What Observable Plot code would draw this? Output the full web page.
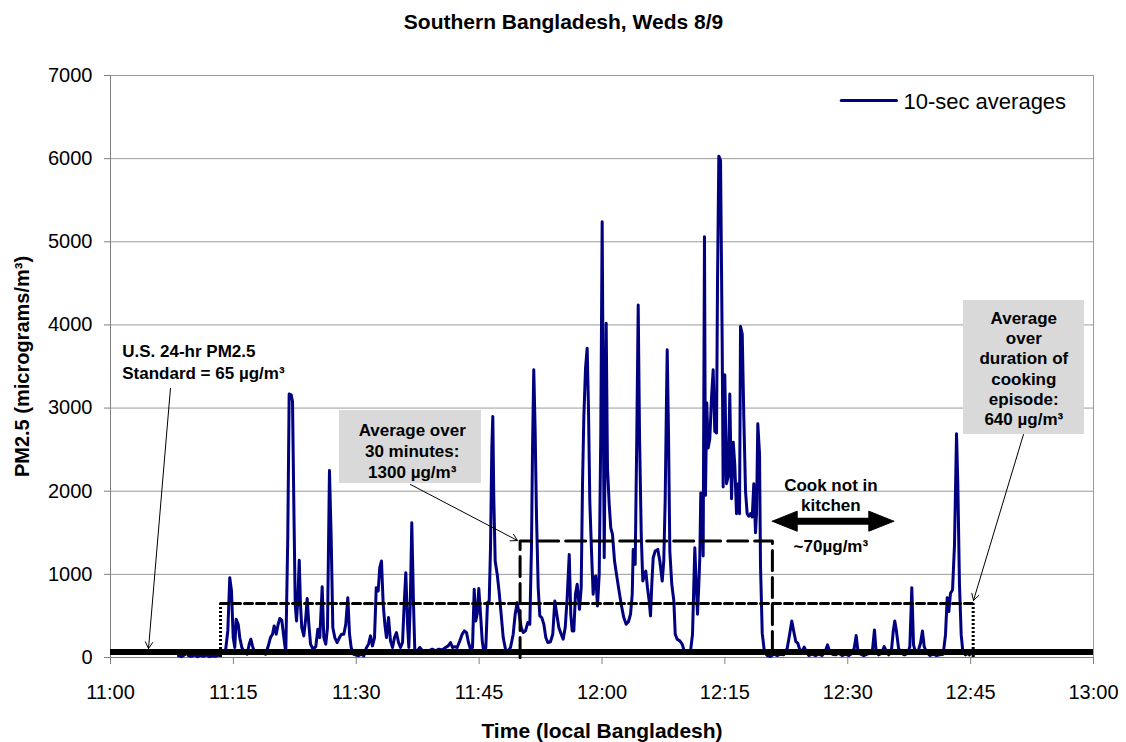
<!DOCTYPE html>
<html><head><meta charset="utf-8">
<script src="https://cdn.jsdelivr.net/npm/d3@7"></script>
<script src="https://cdn.jsdelivr.net/npm/@observablehq/plot@0.6"></script>
<style>
body{margin:0;background:#fff;}
#chart svg{display:block;}
</style></head><body><div id="chart"></div>
<script>
// ---- data: minutes after 11:00 and PM2.5 10-sec averages (µg/m³) ----
const minutesAfter11 = [
8.30,8.67,9.03,9.28,9.52,9.89,10.25,10.62,10.99,11.35,11.72,12.09,12.45,12.82,13.18,13.43,
14.04,14.32,14.56,14.77,14.98,15.17,15.34,15.59,15.78,16.03,16.36,16.69,16.93,17.13,17.33,17.58,17.91,18.23,18.56,18.92,19.20,19.53,19.78,19.98,20.23,20.47,20.67,20.91,21.16,21.40,21.64,21.81,22.06,22.22,22.38,22.55,22.71,22.86,23.04,23.19,23.35,23.60,23.84,24.01,24.21,24.42,24.74,25.06,25.31,25.55,25.84,26.04,26.28,26.49,26.73,26.94,27.14,27.38,27.67,27.95,28.20,28.48,28.72,28.97,29.18,29.38,29.63,29.95,30.27,30.60,30.92,31.25,31.50,31.74,31.98,32.23,32.44,32.68,32.87,33.08,33.29,33.49,33.69,33.94,34.18,34.43,34.67,34.91,35.16,35.40,35.65,35.85,36.05,36.26,36.42,36.59,36.78,36.99,37.15,
37.44,37.76,38.09,38.45,38.86,39.27,39.67,40.08,40.49,40.90,41.22,41.51,41.75,42.03,42.32,42.64,42.93,43.21,43.46,43.70,43.95,44.19,44.40,44.59,44.76,44.96,45.17,45.38,45.57,45.82,46.02,46.23,46.39,46.55,46.67,46.79,46.96,47.21,47.45,47.69,47.94,48.22,48.50,48.83,49.16,49.40,49.65,49.89,50.14,50.38,50.66,50.94,51.19,51.39,51.52,51.67,51.84,52.00,52.21,52.41,52.65,52.90,53.14,53.38,53.71,53.99,54.24,54.48,54.73,55.02,55.26,55.51,55.75,56.00,56.19,56.36,56.56,56.76,56.97,57.25,57.46,57.62,57.78,57.99,58.19,58.35,58.51,58.72,58.92,59.08,59.24,59.45,59.66,59.85,60.02,60.18,60.27,60.51,60.67,60.88,61.07,61.28,61.53,61.77,62.05,62.34,62.66,62.95,63.23,63.48,63.69,63.81,64.05,64.25,64.42,64.58,64.79,64.98,65.19,65.35,65.55,65.76,65.92,66.08,66.25,66.49,66.81,67.06,67.35,67.54,67.71,67.87,67.96,68.12,68.28,68.52,68.77,68.94,69.18,69.50,69.79,70.07,70.40,70.80,71.05,71.21,71.33,71.50,71.66,71.82,71.94,72.06,72.23,72.35,72.51,72.63,72.79,72.96,73.16,73.37,73.57,73.77,73.98,74.10,74.26,74.47,74.67,74.79,74.99,75.20,75.41,75.60,75.81,76.02,76.21,76.42,76.63,76.79,76.91,77.12,77.31,77.52,77.72,77.92,78.13,78.34,78.53,78.74,78.86,79.02,79.23,79.35,79.56,79.84,80.17,80.57,80.97,
81.39,81.79,82.19,82.61,82.89,83.17,83.41,83.66,83.90,84.15,84.44,84.68,84.93,85.24,85.66,86.06,86.47,86.88,87.28,87.53,87.77,88.10,88.50,88.91,89.32,89.72,90.13,90.54,90.79,91.03,91.23,91.56,91.96,92.37,92.78,93.02,93.26,93.47,93.79,94.12,94.45,94.69,95.01,95.34,95.55,95.74,95.95,96.20,96.52,96.93,97.33,97.58,97.82,98.03,98.27,98.60,98.88,99.12,99.33,99.61,100.02,100.43,100.83,101.24,101.65,101.93,102.14,102.34,102.54,102.79,103.03,103.28,103.44,103.64,103.85,104.04,104.37,104.66,104.86
];
const pm25 = [
20,10,30,60,20,15,30,10,25,15,30,10,20,15,25,40,
80,320,960,800,240,120,460,400,240,120,60,40,160,220,140,60,80,50,60,40,120,240,280,380,280,400,470,450,240,60,1440,3170,3160,3080,1840,640,440,680,1170,640,360,260,480,710,400,160,100,130,340,240,850,240,160,360,2250,1440,360,240,180,240,280,280,400,720,280,120,40,30,20,40,20,120,160,260,140,240,840,800,1080,1160,640,400,240,480,200,120,240,300,180,120,180,640,1020,400,120,640,1620,640,80,
80,120,80,60,80,100,80,100,90,120,140,180,120,130,120,200,280,320,300,180,100,120,820,440,520,830,520,200,70,120,660,680,1320,2520,2900,1920,1160,1000,780,520,240,100,70,120,280,520,660,520,360,300,320,420,400,1320,2520,3460,2720,1720,840,500,480,400,240,180,190,280,680,520,360,280,220,360,720,1240,520,320,320,760,880,580,840,2080,2880,3480,3720,3000,1880,1280,760,960,980,620,1000,2680,5240,2680,1200,4020,2280,1840,1560,1480,1160,1000,820,640,480,400,430,520,760,1300,1120,2680,4240,2680,1480,920,1000,1040,840,680,500,880,1200,1280,1300,1160,920,1160,1880,3080,3700,2680,1280,880,680,280,220,200,160,70,60,70,280,880,1320,880,520,880,1200,1980,1880,1220,5060,1950,3060,2520,2630,3125,3460,2720,2700,4500,6030,5980,3800,2050,3400,2090,2180,3170,1910,2590,2320,1730,2090,1730,3980,3890,2900,2000,1730,1700,1730,1690,2090,1500,1730,2810,2450,1100,290,60,24,12,40,
24,40,32,112,272,440,312,192,172,92,80,124,72,24,40,24,40,24,80,152,80,40,32,52,24,40,24,52,112,264,92,40,24,40,52,92,332,64,32,52,132,80,32,92,312,440,312,112,52,32,52,132,840,152,64,80,172,320,132,64,24,40,24,32,40,272,720,552,772,812,1352,2692,2072,872,272,80,32,52,32
];
const yTicks = [0,1000,2000,3000,4000,5000,6000,7000];
const xTickMinutes = [0,15,30,45,60,75,90,105,120];
const xTickLabels = ["11:00","11:15","11:30","11:45","12:00","12:15","12:30","12:45","13:00"];
const standardValue = 65;                                  // U.S. 24-hr standard
const avg30 = {start: 50, end: 80.8, value: 1400};          // 30-minute average box
const episode = {start: 13.43, end: 105.31, value: 650};    // cooking-episode average

// ---- annotation geometry (data coordinates) ----
const boxes = [
  {m1: 27.95, m2: 45.29, v1: 2093, v2: 2971},
  {m1: 104.13, m2: 118.90, v1: 2682, v2: 4294}
];
const arrows = [
  {m1: 7.32, v1: 3236, m2: 4.64, v2: 108},
  {m1: 36.62, v1: 2081, m2: 49.68, v2: 1407},
  {m1: 111.45, v1: 2682, m2: 105.35, v2: 686}
];

const t0 = Date.UTC(2000, 7, 9, 11, 0);
const toDate = m => new Date(t0 + m * 60000);
const series = minutesAfter11.map((m, i) => ({time: toDate(m), value: pm25[i]}));
const xTicks = xTickMinutes.map(toDate);
const labelOf = new Map(xTicks.map((d, i) => [+d, xTickLabels[i]]));

const FONT = "Liberation Sans, Arial, Helvetica, sans-serif";
const bold = {fontWeight: "bold", fill: "black"};

const chart = Plot.plot({
  width: 1126,
  height: 742,
  marginTop: 75,
  marginBottom: 85,
  marginLeft: 110,
  marginRight: 33,
  style: {fontFamily: FONT, fontSize: "20px", color: "black", background: "white"},
  x: {type: "utc", domain: [toDate(0), toDate(120)]},
  y: {domain: [0, 7000]},
  marks: [
    Plot.gridY(yTicks.slice(1), {stroke: "#9a9a9a", strokeOpacity: 1}),
    Plot.ruleX([toDate(120)], {stroke: "#9a9a9a"}),
    Plot.ruleX([toDate(0)], {stroke: "#808080"}),
    Plot.ruleY([0], {stroke: "#808080"}),
    Plot.axisY(yTicks, {tickSize: 6, tickPadding: 12, stroke: "#808080", fontSize: 20, label: null,
      tickFormat: d => String(d)}),
    Plot.axisX(xTicks, {tickSize: 7, tickPadding: 20, stroke: "#808080", fontSize: 20, label: null,
      tickFormat: d => labelOf.get(+d)}),
    // gray annotation boxes
    Plot.rect(boxes, {x1: d => toDate(d.m1), x2: d => toDate(d.m2), y1: "v1", y2: "v2", fill: "#d9d9d9"}),
    // data
    Plot.line(series, {x: "time", y: "value", stroke: "#000080", strokeWidth: 3, strokeLinejoin: "round"}),
    // 30-minute average (dashed)
    Plot.line([{m: avg30.start, v: 0}, {m: avg30.start, v: avg30.value}, {m: avg30.end, v: avg30.value}, {m: avg30.end, v: 0}],
      {x: d => toDate(d.m), y: "v", stroke: "black", strokeWidth: 3, strokeDasharray: "20,7"}),
    // episode average (short dashes, dotted sides)
    Plot.line([{m: episode.start, v: episode.value}, {m: episode.end, v: episode.value}],
      {x: d => toDate(d.m), y: "v", stroke: "black", strokeWidth: 3, strokeDasharray: "8,4"}),
    Plot.ruleX([episode.start, episode.end], {x: d => toDate(d), y1: 0, y2: episode.value,
      stroke: "black", strokeWidth: 3, strokeDasharray: "2,2"}),
    // U.S. standard
    Plot.ruleY([standardValue], {stroke: "black", strokeWidth: 6}),
    // arrows
    Plot.arrow(arrows, {x1: d => toDate(d.m1), y1: "v1", x2: d => toDate(d.m2), y2: "v2",
      stroke: "black", strokeWidth: 1, headLength: 11}),
    // double arrow "Cook not in kitchen"
    Plot.line([{m: 83.5, v: 1639}, {m: 92.9, v: 1639}], {x: d => toDate(d.m), y: "v", stroke: "black", strokeWidth: 7}),
    Plot.line([{m: 80.78, v: 1639}, {m: 83.83, v: 1760}, {m: 83.83, v: 1519}, {m: 80.78, v: 1639}],
      {x: d => toDate(d.m), y: "v", fill: "black", stroke: "black", strokeWidth: 1}),
    Plot.line([{m: 95.62, v: 1639}, {m: 92.57, v: 1760}, {m: 92.57, v: 1519}, {m: 95.62, v: 1639}],
      {x: d => toDate(d.m), y: "v", fill: "black", stroke: "black", strokeWidth: 1}),
    // annotation texts
    Plot.text(["U.S. 24-hr PM2.5\nStandard = 65 µg/m³"], {x: toDate(1.43), y: 3563, textAnchor: "start",
      lineHeight: 1.28, fontSize: 17, ...bold}),
    Plot.text(["Average over\n30 minutes:\n1300 µg/m³"], {x: toDate(36.83), y: 2497, lineHeight: 1.24, fontSize: 17, ...bold}),
    Plot.text(["Average\nover\nduration of\ncooking\nepisode:\n640 µg/m³"], {x: toDate(111.49), y: 3482,
      lineHeight: 1.19, fontSize: 17, ...bold}),
    Plot.text(["Cook not in\nkitchen"], {x: toDate(87.94), y: 1961, lineHeight: 1.18, fontSize: 17, ...bold}),
    Plot.text(["~70µg/m³"], {x: toDate(87.94), y: 1335, fontSize: 17, ...bold}),
    // legend
    Plot.line([{m: 89.2, v: 6700}, {m: 95.95, v: 6700}], {x: d => toDate(d.m), y: "v", stroke: "#000080", strokeWidth: 3}),
    Plot.text(["10-sec averages"], {x: toDate(96.8), y: 6680, textAnchor: "start", fontSize: 22, fill: "black"}),
    // title and axis labels (placed in data coordinates outside the frame)
    Plot.text(["Southern Bangladesh, Weds 8/9"], {x: toDate(55.3), y: 7638, fontSize: 21, ...bold}),
    Plot.text(["Time (local Bangladesh)"], {x: toDate(60), y: -890, fontSize: 21, ...bold}),
    Plot.text(["PM2.5 (micrograms/m³)"], {x: toDate(-10.7), y: 3500, rotate: -90, fontSize: 20, ...bold})
  ]
});
document.getElementById("chart").appendChild(chart);
</script>
</body></html>
